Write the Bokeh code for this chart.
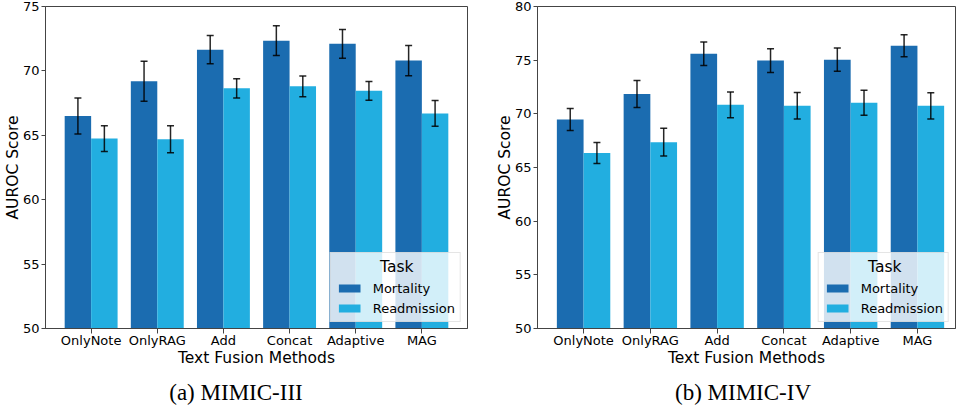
from bokeh.plotting import figure
from bokeh.models import (Range1d, FixedTicker, Whisker, TeeHead, ColumnDataSource,
                          Legend, LegendItem, Div)
from bokeh.layouts import row, column
from bokeh.embed import file_html
from bokeh.resources import INLINE

methods = ["OnlyNote", "OnlyRAG", "Add", "Concat", "Adaptive", "MAG"]

m3_mortality = [66.5, 69.2, 71.65, 72.35, 72.1, 70.8]
m3_mortality_err = [1.4, 1.55, 1.1, 1.15, 1.12, 1.17]
m3_readmission = [64.75, 64.7, 68.65, 68.8, 68.45, 66.7]
m3_readmission_err = [1.0, 1.05, 0.75, 0.8, 0.73, 1.0]

m4_mortality = [69.47, 71.85, 75.6, 74.96, 75.05, 76.34]
m4_mortality_err = [1.02, 1.25, 1.1, 1.1, 1.08, 1.02]
m4_readmission = [66.36, 67.36, 70.84, 70.75, 71.03, 70.75]
m4_readmission_err = [0.98, 1.3, 1.2, 1.23, 1.17, 1.22]

y_ticks_a = [50, 55, 60, 65, 70, 75]
y_ticks_b = [50, 55, 60, 65, 70, 75, 80]

C_MORT = "#1b6cb0"
C_READ = "#22aee0"
AX = "#444444"
BAR_W = 0.4
NB = "\u00a0"


def make(mort, mort_err, read, read_err, yticks, x_end, width, mb_left, mb_right):
    idx = list(range(len(methods)))
    src = ColumnDataSource(dict(
        xm=[i - BAR_W / 2 for i in idx],
        xr=[i + BAR_W / 2 for i in idx],
        mort=mort, read=read,
        mu=[v + e for v, e in zip(mort, mort_err)],
        ml=[v - e for v, e in zip(mort, mort_err)],
        ru=[v + e for v, e in zip(read, read_err)],
        rl=[v - e for v, e in zip(read, read_err)],
    ))
    p = figure(width=width, height=375,
               x_range=Range1d(-0.69, x_end),
               y_range=Range1d(yticks[0], yticks[-1]),
               output_backend="svg", toolbar_location=None,
               min_border_left=mb_left, min_border_right=mb_right,
               min_border_top=12, min_border_bottom=40)
    p.grid.visible = False
    p.outline_line_color = AX
    p.outline_line_width = 1
    p.background_fill_color = "white"
    p.border_fill_color = "white"

    r1 = p.vbar(x="xm", top="mort", bottom=yticks[0], width=BAR_W, source=src,
                fill_color=C_MORT, line_color=None)
    r2 = p.vbar(x="xr", top="read", bottom=yticks[0], width=BAR_W, source=src,
                fill_color=C_READ, line_color=None)

    for base, up, lo in (("xm", "mu", "ml"), ("xr", "ru", "rl")):
        w = Whisker(source=src, base=base, upper=up, lower=lo,
                    line_color="black", line_width=1.5, line_alpha=0.85,
                    upper_head=TeeHead(size=7, line_color="black", line_width=1.5, line_alpha=0.85),
                    lower_head=TeeHead(size=7, line_color="black", line_width=1.5, line_alpha=0.85))
        w.level = "glyph"
        p.add_layout(w)

    p.xaxis.ticker = FixedTicker(ticks=idx)
    p.xaxis.major_label_overrides = {i: m for i, m in zip(idx, methods)}
    p.yaxis.ticker = FixedTicker(ticks=yticks)
    for ax in (p.xaxis, p.yaxis):
        ax.axis_line_color = AX
        ax.axis_line_width = 1
        ax.major_tick_line_color = AX
        ax.major_tick_out = 4
        ax.major_tick_in = 0
        ax.minor_tick_line_color = None
        ax.major_label_text_font = "DejaVu Sans"
        ax.major_label_text_font_size = "13px"
        ax.major_label_text_color = "black"
        ax.axis_label_text_font = "DejaVu Sans"
        ax.axis_label_text_font_size = "15.5px"
        ax.axis_label_text_font_style = "normal"
        ax.axis_label_text_color = "black"
    p.xaxis.major_tick_out = 5
    p.xaxis.major_label_standoff = -1
    p.xaxis.axis_label_standoff = -2
    p.yaxis.major_label_standoff = 2
    p.yaxis.axis_label_standoff = -2
    p.xaxis.axis_label = "Text Fusion Methods"
    p.yaxis.axis_label = "AUROC Score"

    leg = Legend(items=[LegendItem(label="Mortality", renderers=[r1]),
                        LegendItem(label="Readmission", renderers=[r2])],
                 title=NB * 9 + "Task", location="bottom_right")
    leg.title_text_font = "DejaVu Sans"
    leg.title_text_font_size = "15.5px"
    leg.title_text_font_style = "normal"
    leg.title_text_color = "black"
    leg.title_standoff = 4
    leg.label_text_font = "DejaVu Sans"
    leg.label_text_font_size = "13px"
    leg.label_text_color = "black"
    leg.glyph_width = 27
    leg.glyph_height = 10
    leg.label_height = 16
    leg.label_standoff = 10
    leg.spacing = 4
    leg.padding = 5
    leg.margin = 6
    leg.background_fill_color = "white"
    leg.background_fill_alpha = 0.8
    leg.border_line_color = "#cccccc"
    leg.border_line_width = 1
    p.add_layout(leg)
    return p


def caption(text, width, pad_l, pad_r):
    html = ('<div style="display:block; box-sizing:border-box; width:%dpx; '
            'padding:7px %dpx 0 %dpx; text-align:center; '
            'font-family:\'Liberation Serif\'; font-size:23px; line-height:24px; '
            'color:black; white-space:nowrap;">%s</div>' % (width, pad_r, pad_l, text))
    return Div(text=html, width=width, height=31)


pa = make(m3_mortality, m3_mortality_err, m3_readmission, m3_readmission_err,
          y_ticks_a, 5.69, 492, 42, 25)
pb = make(m4_mortality, m4_mortality_err, m4_readmission, m4_readmission_err,
          y_ticks_b, 5.57, 464, 45, 1)

ca = caption("(a) MIMIC-III", 492, 0, 30)
cb = caption("(b) MIMIC-IV", 464, 8, 0)

layout = column(row(pa, pb), row(ca, cb), margin=(-6, 0, 0, 0))
open("out.html", "w").write(file_html(layout, INLINE))
